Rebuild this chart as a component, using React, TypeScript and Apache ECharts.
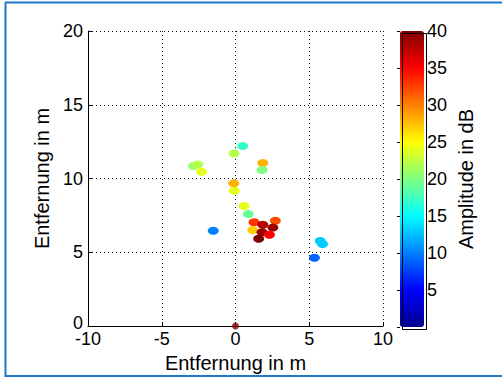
import React, { useEffect, useRef } from "react";
import * as echarts from "echarts";

// Scatter targets: x (m), y (m), amplitude (dB)
const xs = [0.49, -0.1, -2.85, -2.55, -2.3, 1.85, 1.8, -0.12, -0.08, 0.58, 0.87, -1.51, 1.26, 1.85, 2.7, 2.53, 1.17, 1.8, 2.3, 1.57, 5.74, 5.9, 5.35];
const ys = [12.2, 11.7, 10.85, 10.95, 10.45, 11.05, 10.58, 9.67, 9.17, 8.14, 7.59, 6.46, 7.03, 6.87, 7.14, 6.67, 6.51, 6.35, 6.19, 5.92, 5.76, 5.56, 4.63];
const amps = [17, 22, 21, 22, 24, 28, 20, 28, 24, 24, 19, 10, 33, 38, 32, 39, 27, 39, 35, 40, 13, 13, 9];
const origin = [[0, 0]];

const xTicks = [-10, -5, 0, 5, 10];
const yTicks = [0, 5, 10, 15, 20];
const cbarTicks = [5, 10, 15, 20, 25, 30, 35, 40];

const jet = ["#00008F", "#0000FF", "#0080FF", "#00FFFF", "#80FF80", "#FFFF00", "#FF8000", "#FF0000", "#800000"];

const FONT = "'Liberation Sans', Arial, sans-serif";

export default function App() {
  const ref = useRef<HTMLDivElement>(null);
  useEffect(() => {
    if (!ref.current) return;
    const chart = echarts.init(ref.current, undefined, { renderer: "svg" });
    const pts = xs.map((x, i) => [x, ys[i], amps[i]]);
    const dotted = { color: "#111", width: 1, type: [1, 3] as any };
    chart.setOption({
      animation: false,
      backgroundColor: "#fff",
      textStyle: { fontFamily: FONT, color: "#000" },
      grid: [
        { left: 88, top: 31, width: 295, height: 295 },
        { left: 400, top: 31, width: 24, height: 296 },
      ],
      xAxis: [
        {
          gridIndex: 0,
          type: "value",
          min: xTicks[0],
          max: xTicks[xTicks.length - 1],
          interval: 5,
          axisLine: { show: true, onZero: false, lineStyle: { color: "#000", width: 1 } },
          axisTick: { show: true, inside: true, length: 4, lineStyle: { color: "#000" } },
          axisLabel: { color: "#000", fontSize: 18, fontFamily: FONT, margin: 4 },
          splitLine: { show: true, lineStyle: dotted },
          name: "Entfernung in m",
          nameLocation: "middle",
          nameGap: 24,
          nameTextStyle: { color: "#000", fontSize: 20, fontFamily: FONT },
        },
        { gridIndex: 1, type: "value", show: false, min: 0, max: 1 },
      ],
      yAxis: [
        {
          gridIndex: 0,
          type: "value",
          min: yTicks[0],
          max: yTicks[yTicks.length - 1],
          interval: 5,
          axisLine: { show: true, onZero: false, lineStyle: { color: "#000", width: 1 } },
          axisTick: { show: true, inside: true, length: 4, lineStyle: { color: "#000" } },
          axisLabel: {
            color: "#000",
            fontSize: 18,
            fontFamily: FONT,
            margin: 5,
            formatter: (v: number) => (v === 0 ? "{lo|0}" : String(v)),
            rich: { lo: { fontSize: 18, fontFamily: FONT, color: "#000", padding: [0, 0, 6, 0] } },
          },
          splitLine: { show: true, lineStyle: dotted },
          name: "Entfernung in m",
          nameLocation: "middle",
          nameGap: 30,
          nameTextStyle: { color: "#000", fontSize: 20, fontFamily: FONT },
        },
        {
          gridIndex: 1,
          type: "value",
          position: "right",
          min: 0,
          max: 40,
          interval: 5,
          axisLine: { show: false },
          axisTick: { show: true, inside: true, length: 3, lineStyle: { color: "#000" } },
          axisLabel: {
            color: "#000",
            fontSize: 18,
            fontFamily: FONT,
            margin: 3,
            formatter: (v: number) => (cbarTicks.includes(v) ? String(v) : ""),
          },
          splitLine: { show: false },
          name: "Amplitude in dB",
          nameLocation: "middle",
          nameRotate: 90,
          nameGap: 32,
          nameTextStyle: { color: "#000", fontSize: 20, fontFamily: FONT },
        },
      ],
      visualMap: {
        type: "continuous",
        min: 0,
        max: 40,
        dimension: 2,
        seriesIndex: 0,
        orient: "vertical",
        left: 400,
        top: 31,
        itemWidth: 24,
        itemHeight: 296,
        padding: 0,
        text: ["", ""],
        showLabel: false,
        calculable: false,
        hoverLink: false,
        inRange: { color: jet },
      },
      graphic: [
        {
          type: "rect",
          left: 400,
          top: 31,
          z: 100,
          shape: { width: 24, height: 296 },
          style: { fill: "none", stroke: "#000", lineWidth: 1 },
        },
        { type: "line", z: 100, shape: { x1: 5.5, y1: 2, x2: 5.5, y2: 377 }, style: { stroke: "#1E78C8", lineWidth: 2 } },
        { type: "line", z: 100, shape: { x1: 5, y1: 2.5, x2: 502, y2: 2.5 }, style: { stroke: "#1E78C8", lineWidth: 2 } },
        { type: "line", z: 100, shape: { x1: 5, y1: 376, x2: 502, y2: 376 }, style: { stroke: "#1E78C8", lineWidth: 2 } },
      ],
      series: [
        {
          type: "scatter",
          xAxisIndex: 0,
          yAxisIndex: 0,
          data: pts,
          symbol: "circle",
          symbolSize: [11, 8],
          itemStyle: { opacity: 1 },
        },
        {
          type: "scatter",
          xAxisIndex: 0,
          yAxisIndex: 0,
          data: origin,
          symbol: "circle",
          symbolSize: 7,
          clip: false,
          itemStyle: { color: "#8B0000" },
          z: 10,
        },
      ],
    });
    return () => chart.dispose();
  }, []);
  return <div ref={ref} style={{ position: "absolute", left: 0, top: 0, width: 502, height: 378 }} />;
}
